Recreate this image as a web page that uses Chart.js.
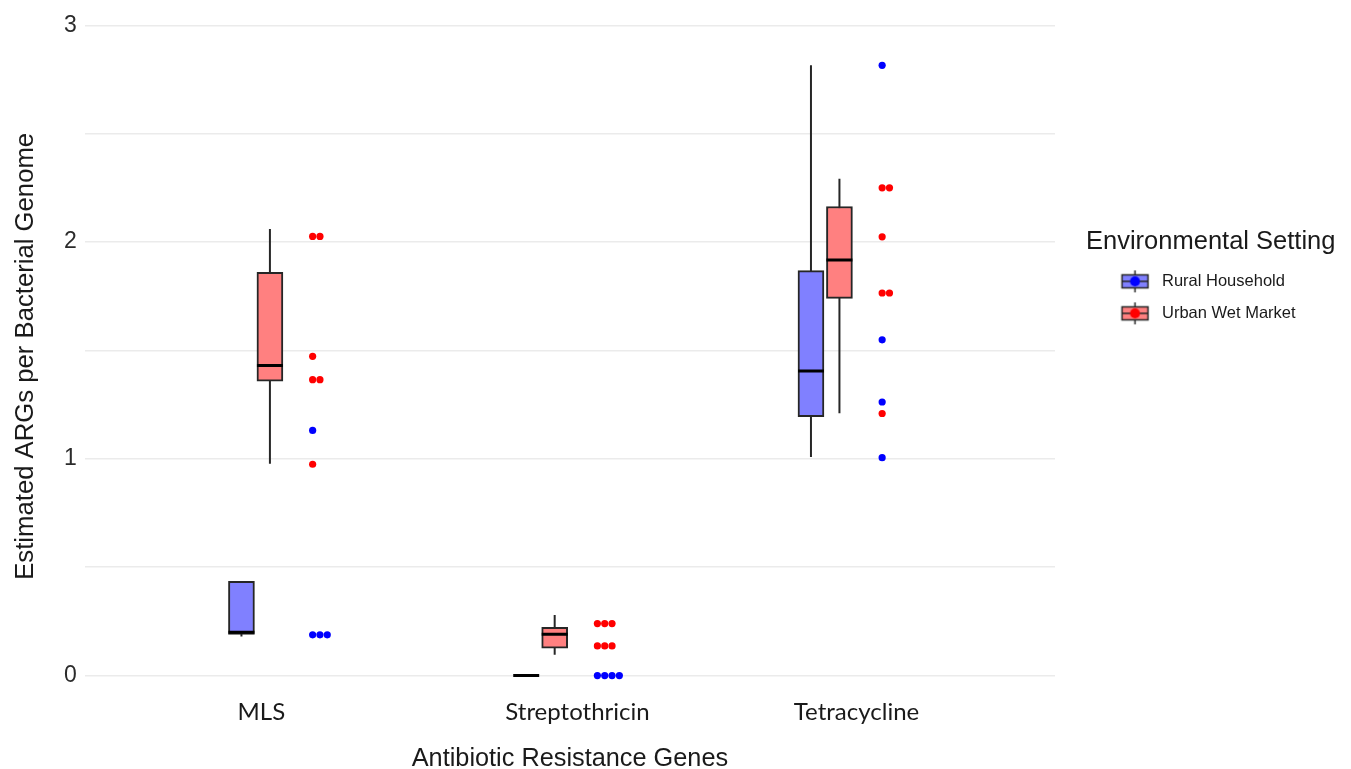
<!DOCTYPE html>
<html>
<head>
<meta charset="utf-8">
<title>Estimated ARGs per Bacterial Genome</title>
<script src="https://cdn.jsdelivr.net/npm/chart.js@4.4.1/dist/chart.umd.min.js"></script>
<style>
  html, body { margin: 0; padding: 0; background: #fff; }
  #chart { display: block; }
</style>
</head>
<body>
<canvas id="chart" width="1351" height="769"></canvas>
<script>
// categories and where their labels sit on the x axis
const categories = ['MLS', 'Streptothricin', 'Tetracycline'];
const labelPositions = [1.02, 2.13, 3.11];
const yTicks = [0, 0.5, 1, 1.5, 2, 2.5, 3];
const seriesNames = ['Rural Household', 'Urban Wet Market'];

// box stats per category: [min, q1, median, q3, max]
const ruralBoxes = [
  [0.18, 0.19, 0.20, 0.435, 0.435],
  [0, 0, 0, 0, 0],
  [1.008, 1.194, 1.405, 1.868, 2.815]
];
const urbanBoxes = [
  [0.977, 1.358, 1.43, 1.86, 2.06],
  [0.096, 0.126, 0.191, 0.223, 0.28],
  [1.21, 1.74, 1.917, 2.164, 2.292]
];

// single samples per category
const ruralPoints = [
  [1.131, 0.188, 0.188, 0.188],
  [0, 0, 0, 0],
  [2.815, 1.549, 1.262, 1.005]
];
const urbanPoints = [
  [2.026, 2.026, 1.473, 1.365, 1.365, 0.975],
  [0.24, 0.24, 0.24, 0.137, 0.137, 0.137],
  [2.25, 2.25, 2.024, 1.765, 1.765, 1.209]
];

const blueFill = '#8080ff';
const redFill = '#ff8080';
const blueDot = '#0000ff';
const redDot = '#ff0000';
const edge = '#262626';

// placement inside a category (x units)
const boxShift = 0.05;
const boxHalf = 0.0456;
const dotShift = 0.2;
const dotStep = 0.0257;

function boxBars(boxes, shift) {
  return boxes.map((b, i) => ({ x: i + 1 + shift, y: [b[1], b[3]] }));
}

function whiskers(boxes, shift) {
  const out = [];
  boxes.forEach((b, i) => {
    const x = i + 1 + shift;
    out.push({ x: x, y: b[0] }, { x: x, y: b[4] }, { x: x, y: null });
  });
  return out;
}

function medians(boxes, shift) {
  const out = [];
  boxes.forEach((b, i) => {
    const x = i + 1 + shift;
    out.push({ x: x - boxHalf, y: b[2] }, { x: x + boxHalf, y: b[2] }, { x: x, y: null });
  });
  return out;
}

// dot plot: equal values get stacked sideways
function dots(points) {
  const out = [];
  points.forEach((vals, i) => {
    const seen = {};
    vals.forEach(v => {
      const k = seen[v] || 0;
      seen[v] = k + 1;
      out.push({ x: i + 1 + dotShift + k * dotStep, y: v });
    });
  });
  return out;
}

function legendIcon(fill, dot) {
  const c = document.createElement('canvas');
  c.width = 52;
  c.height = 26;
  const g = c.getContext('2d');
  const cx = 33.4, cy = 13;
  g.strokeStyle = edge;
  g.lineWidth = 1.5;
  g.beginPath();
  g.moveTo(cx, cy - 11); g.lineTo(cx, cy - 6.5);
  g.moveTo(cx, cy + 6.5); g.lineTo(cx, cy + 11);
  g.stroke();
  g.fillStyle = fill;
  g.fillRect(cx - 13, cy - 6.5, 26, 13);
  g.strokeRect(cx - 13, cy - 6.5, 26, 13);
  g.beginPath();
  g.moveTo(cx - 13, cy); g.lineTo(cx + 13, cy);
  g.stroke();
  g.fillStyle = dot;
  g.beginPath();
  g.arc(cx, cy, 5, 0, Math.PI * 2);
  g.fill();
  return c;
}

const iconRural = legendIcon(blueFill, blueDot);
const iconUrban = legendIcon(redFill, redDot);

// legend box is clipped to its own width, so make it wide enough for the title
const legendWidth = {
  id: 'legendWidth',
  beforeLayout(chart) {
    const lg = chart.legend;
    if (lg && !lg._wide) {
      const fit = lg.fit;
      lg.fit = function () {
        fit.call(this);
        this.width = 265;
      };
      lg._wide = true;
    }
  }
};

Chart.defaults.font.family = '"Liberation Sans", Arial, sans-serif';
Chart.defaults.color = '#1a1a1a';

new Chart(document.getElementById('chart'), {
  type: 'bar',
  data: {
    datasets: [
      { type: 'line', data: whiskers(ruralBoxes, -boxShift), borderColor: edge, borderWidth: 2, pointRadius: 0, spanGaps: false, order: 3 },
      { type: 'line', data: whiskers(urbanBoxes, boxShift), borderColor: edge, borderWidth: 2, pointRadius: 0, spanGaps: false, order: 3 },
      { label: seriesNames[0], data: boxBars(ruralBoxes, -boxShift), backgroundColor: blueFill, borderColor: edge, borderWidth: 2, borderSkipped: false, grouped: false, barPercentage: 1, categoryPercentage: 1, maxBarThickness: 26, order: 2 },
      { label: seriesNames[1], data: boxBars(urbanBoxes, boxShift), backgroundColor: redFill, borderColor: edge, borderWidth: 2, borderSkipped: false, grouped: false, barPercentage: 1, categoryPercentage: 1, maxBarThickness: 26, order: 2 },
      { type: 'line', data: medians(ruralBoxes, -boxShift), borderColor: '#000', borderWidth: 3, pointRadius: 0, spanGaps: false, order: 1 },
      { type: 'line', data: medians(urbanBoxes, boxShift), borderColor: '#000', borderWidth: 3, pointRadius: 0, spanGaps: false, order: 1 },
      { type: 'scatter', data: dots(ruralPoints), backgroundColor: blueDot, borderWidth: 0, pointRadius: 3.6, order: 0 },
      { type: 'scatter', data: dots(urbanPoints), backgroundColor: redDot, borderWidth: 0, pointRadius: 3.6, order: 0 }
    ]
  },
  plugins: [legendWidth],
  options: {
    responsive: false,
    animation: false,
    events: [],
    layout: { padding: { left: 6, right: 0, top: 0, bottom: 0 } },
    plugins: {
      tooltip: { enabled: false },
      legend: {
        position: 'right',
        align: 'start',
        onClick: null,
        title: {
          display: true,
          text: 'Environmental Setting',
          position: 'start',
          font: { size: 25.5 },
          padding: { top: 229, bottom: -2 }
        },
        labels: {
          usePointStyle: true,
          pointStyleWidth: 52.25,
          padding: 15.5,
          font: { size: 16.5 },
          generateLabels: () => [
            { text: seriesNames[0], pointStyle: iconRural, fillStyle: blueFill, strokeStyle: edge, lineWidth: 0, hidden: false, datasetIndex: 2 },
            { text: seriesNames[1], pointStyle: iconUrban, fillStyle: redFill, strokeStyle: edge, lineWidth: 0, hidden: false, datasetIndex: 3 }
          ]
        }
      }
    },
    scales: {
      x: {
        type: 'linear',
        min: 0.4,
        max: 3.807,
        offset: false,
        grid: { display: false, offset: false, drawTicks: false },
        border: { display: false },
        afterBuildTicks: s => { s.ticks = labelPositions.map(v => ({ value: v })); },
        ticks: {
          autoSkip: false,
          maxRotation: 0,
          padding: 7,
          color: '#1a1a1a',
          font: { family: 'Lato, "Open Sans", sans-serif', size: 24 },
          callback: (v, i) => categories[i]
        },
        title: {
          display: true,
          text: 'Antibiotic Resistance Genes',
          font: { size: 25.3, lineHeight: 0.8 },
          padding: { top: 15.1, bottom: 0 }
        }
      },
      y: {
        min: -0.0705,
        max: 3.016,
        grid: { color: '#ebebeb', lineWidth: 1.5, drawTicks: false },
        border: { display: false },
        afterBuildTicks: s => { s.ticks = yTicks.map(v => ({ value: v })); },
        ticks: {
          padding: 8,
          color: '#2b2b2b',
          font: { size: 23 },
          callback: v => (Number.isInteger(v) ? String(v) : '')
        },
        title: {
          display: true,
          text: 'Estimated ARGs per Bacterial Genome',
          font: { size: 25.7 },
          padding: { top: 4, bottom: 15.2 }
        }
      },
      // empty axis that keeps a gap between the plot and the legend
      yR: {
        position: 'right',
        display: true,
        grid: { display: false },
        border: { display: false },
        ticks: { display: false },
        afterFit: s => { s.width = 31; }
      }
    }
  }
});
</script>
</body>
</html>
